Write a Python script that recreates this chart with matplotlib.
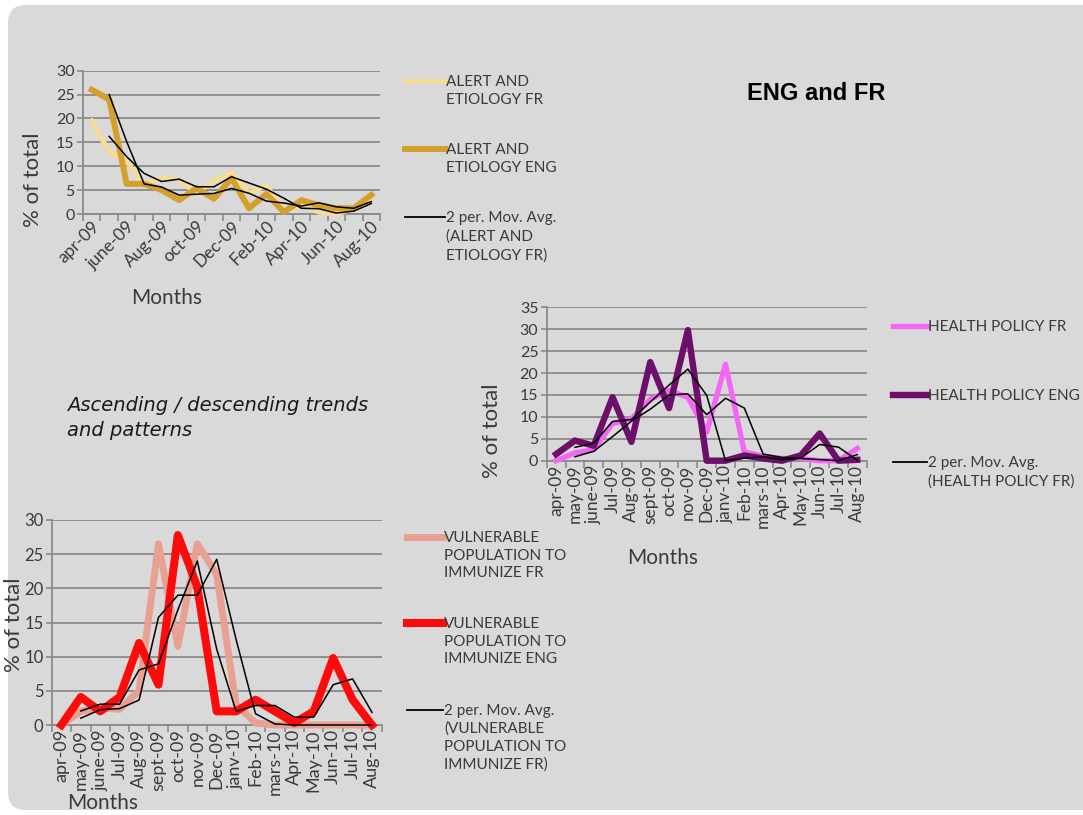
import matplotlib
matplotlib.use("Agg")
import matplotlib.pyplot as plt
import numpy as np
import pandas as pd
from matplotlib.patches import FancyBboxPatch
from matplotlib.lines import Line2D

months = ["apr-09", "may-09", "june-09", "Jul-09", "Aug-09", "sept-09", "oct-09",
          "nov-09", "Dec-09", "janv-10", "Feb-10", "mars-10", "Apr-10", "May-10",
          "Jun-10", "Jul-10", "Aug-10"]

# % of total per month
alert_fr = [19.5, 13, 11, 6, 7.6, 7, 4.4, 7, 8.6, 4.4, 6, 0.6, 1.8, 0.4, 0, 1.2, 3.2]
alert_eng = [26, 24, 6.3, 6.3, 5.0, 2.9, 5.4, 3.2, 7.5, 1.2, 4.2, 0.4, 2.9, 1.8, 1.2, 1.2, 4.0]
policy_fr = [0, 1.8, 2.5, 8.5, 9.5, 14, 16, 14.5, 6.5, 22, 2, 1, 0.5, 0.5, 0, 0, 2.8]
policy_eng = [1.5, 4.6, 3.4, 14.5, 4.3, 22.5, 12, 29.8, 0, 0, 1.2, 0.5, 0, 1.2, 6.2, 0, 0.2]
vuln_fr = [0, 2, 2.5, 2.3, 5, 26.5, 11.5, 26.5, 22, 3, 0.3, 0, 0, 0, 0, 0, 0]
vuln_eng = [0, 4.1, 2, 4.1, 12, 5.9, 27.8, 20.2, 2, 2, 3.7, 2, 0.3, 2, 9.8, 3.7, 0]

W, H = 1083, 815
plt.rcParams['font.family'] = ['Lato', 'DejaVu Sans']
TXT = '#3a3a3a'
GRID = '#8a8a8a'

fig = plt.figure(figsize=(W / 100, H / 100), dpi=100, facecolor='white')

# slide panel
bg = FancyBboxPatch((0.08, 0.05), 11.0, 8.05, boxstyle="round,pad=0,rounding_size=0.18",
                    transform=fig.dpi_scale_trans, facecolor='#d9d9d9', edgecolor='none',
                    zorder=-10)
fig.patches.append(bg)


def rect(l, t, r, b):
    return [l / W, 1 - b / H, (r - l) / W, (b - t) / H]


def ftext(x, y, s, **kw):
    fig.text(x / W, 1 - y / H, s, **kw)


def panel(box, fr, eng, c_fr, c_eng, lw_fr, lw_eng, ymax, ystep, tick_idx, rot, fs, yfs):
    ax = fig.add_axes(rect(*box))
    ax.set_facecolor('none')
    x = np.arange(len(months))
    ax.plot(x, fr, color=c_fr, lw=lw_fr, clip_on=False, zorder=3)
    ax.plot(x, eng, color=c_eng, lw=lw_eng, clip_on=False, zorder=4)
    ma_fr = pd.Series(fr).rolling(2).mean()
    ma_eng = pd.Series(eng).rolling(2).mean()
    ax.plot(x, ma_fr, color='black', lw=1.1, zorder=5, clip_on=False)
    ax.plot(x, ma_eng, color='black', lw=1.1, zorder=5, clip_on=False)
    ax.set_xlim(-0.5, len(months) - 0.5)
    ax.set_ylim(0, ymax)
    ax.set_yticks(range(0, ymax + 1, ystep))
    ax.yaxis.grid(True, color=GRID, lw=1.3)
    ax.set_axisbelow(True)
    for s in ['top', 'right']:
        ax.spines[s].set_visible(False)
    for s in ['left', 'bottom']:
        ax.spines[s].set_color(GRID)
        ax.spines[s].set_linewidth(1.3)
    ax.set_xticks(tick_idx)
    ax.set_xticklabels([months[i] for i in tick_idx], fontsize=fs, color=TXT)
    ax.set_xticks(np.arange(-0.5, len(months)), minor=True)
    ax.tick_params(axis='x', which='major', length=0, pad=3)
    ax.tick_params(axis='x', which='minor', length=5, color=GRID, width=1.2)
    ax.tick_params(axis='y', length=4, color=GRID, width=1.2, labelsize=yfs,
                   labelcolor=TXT, pad=2)
    if rot == 45:
        for lab in ax.get_xticklabels():
            lab.set_rotation(45)
            lab.set_ha('right')
            lab.set_va('top')
            lab.set_rotation_mode('anchor')
    else:
        for lab in ax.get_xticklabels():
            lab.set_rotation(90)
            lab.set_ha('center')
            lab.set_va('top')
    return ax


def legend_entry(x0, x1, y, color, lw, text, fs=11, pitch=1.4):
    fig.add_artist(Line2D([x0 / W, x1 / W], [1 - y / H, 1 - y / H], color=color, lw=lw))
    ftext(x1 + 1, y - 6, text, fontsize=fs, color=TXT, va='top', ha='left',
          linespacing=pitch)


# alert and etiology
panel((83, 70.7, 380, 214), alert_fr, alert_eng, '#f7dc96', '#d4a02c', 3.6, 4.3,
      30, 5, list(range(0, 17, 2)), 45, 12.5, 11.5)
ftext(33, 180, '% of total', fontsize=16, color=TXT, rotation=90, ha='center', va='center')
ftext(167, 298, 'Months', fontsize=15, color=TXT, ha='center', va='center')
legend_entry(405, 445, 81, '#f7dc96', 3.6, 'ALERT AND\nETIOLOGY FR')
legend_entry(405, 445, 149, '#d4a02c', 4.3, 'ALERT AND\nETIOLOGY ENG')
legend_entry(405, 445, 217, 'black', 1.3, '2 per. Mov. Avg.\n(ALERT AND\nETIOLOGY FR)')

# health policy
panel((546.7, 307.3, 866.7, 460.7), policy_fr, policy_eng, '#f466f4', '#6b0f6b', 3.8, 4.6,
      35, 5, list(range(17)), 90, 12.5, 11.5)
ftext(492, 431, '% of total', fontsize=16, color=TXT, rotation=90, ha='center', va='center')
ftext(663, 558, 'Months', fontsize=15, color=TXT, ha='center', va='center')
legend_entry(893, 927, 326, '#f466f4', 3.8, 'HEALTH POLICY FR')
legend_entry(893, 927, 395, '#6b0f6b', 4.6, 'HEALTH POLICY ENG')
legend_entry(893, 927, 462, 'black', 1.3, '2 per. Mov. Avg.\n(HEALTH POLICY FR)')

# vulnerable population
panel((51.7, 520, 381.7, 725), vuln_fr, vuln_eng, '#e8a093', '#ff0a0a', 5.0, 5.8,
      30, 5, list(range(17)), 90, 13, 12)
ftext(14, 625, '% of total', fontsize=16, color=TXT, rotation=90, ha='center', va='center')
ftext(103, 803, 'Months', fontsize=15, color=TXT, ha='center', va='center')
legend_entry(407, 443, 537, '#e8a093', 5.0, 'VULNERABLE\nPOPULATION TO\nIMMUNIZE FR', pitch=1.33)
legend_entry(407, 443, 623, '#ff0a0a', 5.8, 'VULNERABLE\nPOPULATION TO\nIMMUNIZE ENG',
             pitch=1.33)
legend_entry(407, 443, 710, 'black', 1.3,
             '2 per. Mov. Avg.\n(VULNERABLE\nPOPULATION TO\nIMMUNIZE FR)', pitch=1.33)

ftext(816, 93, 'ENG and FR', fontsize=17, fontweight='bold', color='black',
      family=['Liberation Sans', 'DejaVu Sans'], ha='center', va='center')
ftext(67, 418, 'Ascending / descending trends\nand patterns', fontsize=14,
      style='italic', color='#1a1a1a', family=['DejaVu Sans'],
      ha='left', va='center', linespacing=1.4)

fig.savefig('out.png', dpi=100, facecolor=fig.get_facecolor())
